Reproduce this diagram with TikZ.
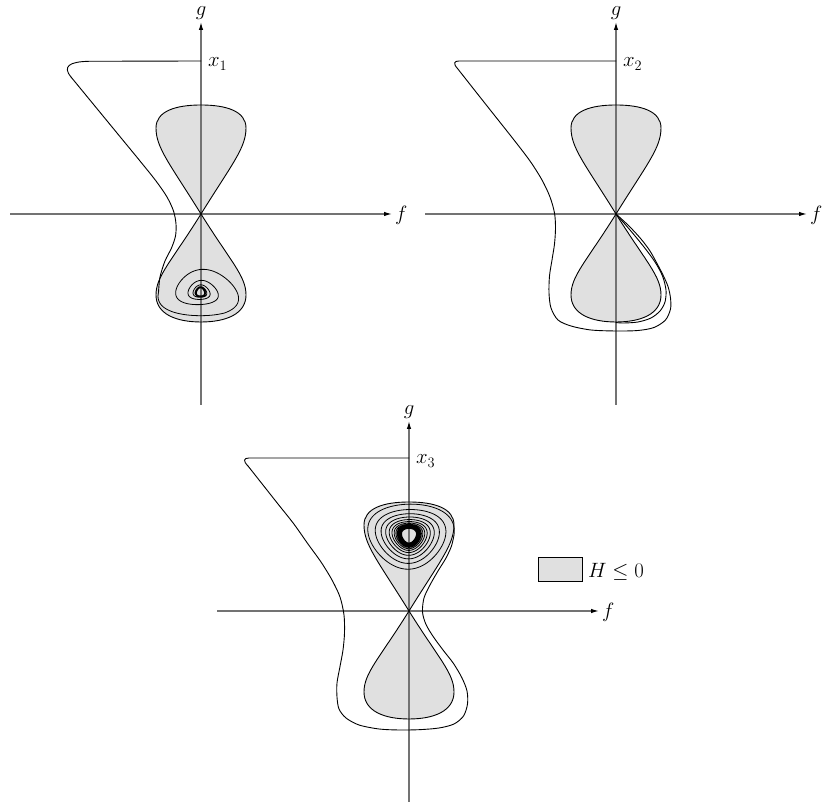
\documentclass[tikz,border=0pt]{standalone}
\usetikzlibrary{arrows.meta}
\tikzset{
 axis/.style={draw=black!55, line width=1.2pt, -{Latex[length=8pt,width=4.5pt,color=black]}},
 curve/.style={line width=0.9pt, black, line join=round, line cap=round},
 lobefill/.style={fill=black!12},
 lbl/.style={font=\fontsize{20.74}{25}\selectfont, inner sep=2pt},
}
\newcommand{\lobeshape}{(0,0) .. controls (-31,50) and (-45,66) .. (-45,86) .. controls (-45,103) and (-25,109) .. (0,109) .. controls (25,109) and (45,103) .. (45,86) .. controls (45,66) and (31,50) .. (0,0) .. controls (-30,-48) and (-45,-62) .. (-45,-81) .. controls (-45,-100) and (-25,-108) .. (0,-108) .. controls (25,-108) and (45,-100) .. (45,-81) .. controls (45,-62) and (30,-48) .. (0,0) -- cycle}
\begin{document}
\begin{tikzpicture}[x=1pt,y=1pt]
\useasboundingbox (0,0) rectangle (828,808);
% ---------------- panel 1
\begin{scope}[shift={(201,594)}]
 \fill[lobefill] \lobeshape;
 \draw[axis] (-191,0) -- (191,0);
 \draw[axis] (0,-191) -- (0,192);
 \draw[line width=0.9pt] \lobeshape;
 \node[lbl, anchor=south] (g1) at (0,192) {$g$};
 \node[lbl, anchor=west] (f1) at (192,-1) {$f$};
 \node[lbl, anchor=west] (x1) at (5,150) {$x_1$};
 \draw[curve] (0,153) -- (-112,152.7) .. controls (-131,152.3) and (-139,148) .. (-130,137);
 \draw[curve] plot[smooth] coordinates {(-130,137) (-107,109) (-84,81) (-61,53) (-45,33) (-34,17) (-27.5,3) (-25,-10) (-25.5,-22) (-29.5,-34) (-36,-47) (-41,-63) (-42.5,-78.5)};
 \draw[curve, line width=0.8pt] plot[domain=0:3600, samples=901, smooth, variable=\t]
   ({-0.5+(4+38*exp(-0.0025*max(\t-120,0)))*cos(180+\t)*(1-0.15*sin(180+\t))},
    {-78.5+(4+23.3*exp(-0.0025*max(\t-120,0)))*(sin(180+\t)+0.15*sin(180+\t)*sin(180+\t))});
\end{scope}
% ---------------- panel 2
\begin{scope}[shift={(616,594)}]
 \fill[lobefill] \lobeshape;
 \draw[axis] (-191,0) -- (191,0);
 \draw[axis] (0,-191) -- (0,192);
 \draw[line width=0.9pt] \lobeshape;
 \node[lbl, anchor=south] (g2) at (0,192) {$g$};
 \node[lbl, anchor=west] (f2) at (192,-1) {$f$};
 \node[lbl, anchor=west] (x2) at (5,150) {$x_2$};
 \draw[curve] (0,153) -- (-157,153) .. controls (-162,153) and (-163,150.5) .. (-158.5,145.5);
 \draw[curve] plot[smooth] coordinates {(-158.5,145.5) (-140,122) (-121,98) (-102,74) (-86,53) (-74,34) (-66,17) (-61.5,1) (-60.5,-14) (-61.5,-30) (-64,-46) (-66.5,-62) (-67,-79) (-65,-94) (-58,-106) (-45,-112) (-25,-116) (0,-117) (22,-116.5) (38,-113.5) (49.5,-106) (54.5,-95) (54.5,-84) (52,-72.5) (47,-61) (41,-49.5) (34,-37) (25,-25) (13,-12) (0,0)};
 \draw[curve] plot[smooth] coordinates {(0,0) (14,-16) (28,-33) (39,-48) (46.5,-62) (50,-76) (49,-88) (44,-97) (35,-104) (22,-108) (8,-109) (0,-108.6)};
\end{scope}
% ---------------- panel 3
\begin{scope}[shift={(409,197)}]
 \fill[lobefill] \lobeshape;
 \draw[axis] (-192,0) -- (190,0);
 \draw[axis] (0,-191) -- (0,190);
 \draw[line width=0.9pt] \lobeshape;
 \node[lbl, anchor=south] (g3) at (0,190) {$g$};
 \node[lbl, anchor=west] (f3) at (191,-1) {$f$};
 \node[lbl, anchor=west] (x3) at (5,150) {$x_3$};
 \draw[curve] (0,153) -- (-160,153) .. controls (-165.5,153) and (-166,150) .. (-161,145);
 \draw[curve] plot[smooth] coordinates {(-161,145) (-146,126) (-131,107) (-115.5,87.5) (-101,67) (-88,49) (-77,31) (-69,14) (-65,-4) (-64.5,-22) (-66,-39) (-69,-55.5) (-72,-72) (-72,-86) (-70,-98) (-63,-107) (-50,-114) (-30,-118) (-10,-119) (10,-118.7) (30,-117) (45,-113) (54.5,-105) (58.5,-93) (58,-80) (53,-67) (44.5,-52.5) (34,-39) (24.5,-26) (17,-13.5) (13.5,-1) (15,13) (21,26) (29,40) (37,53) (42.5,65) (45,76)};
 \draw[curve, line width=0.8pt] plot[domain=0:7200, samples=1801, smooth, variable=\t]
   ({(7+38*exp(-0.0006902*\t))*cos(\t)*(1+0.15*sin(\t))},
    {76+(7+29*exp(-0.0006902*\t))*(sin(\t)-0.1*sin(\t)*sin(\t))});
\end{scope}
% ---------------- legend
\node[draw=black, line width=0.8pt, lobefill, minimum width=44pt, minimum height=24pt, inner sep=0pt] (leg) at (560,239) {};
\node[lbl, anchor=west] (legt) at (586,236.5) {$H \leq 0$};
\end{tikzpicture}
\end{document}
